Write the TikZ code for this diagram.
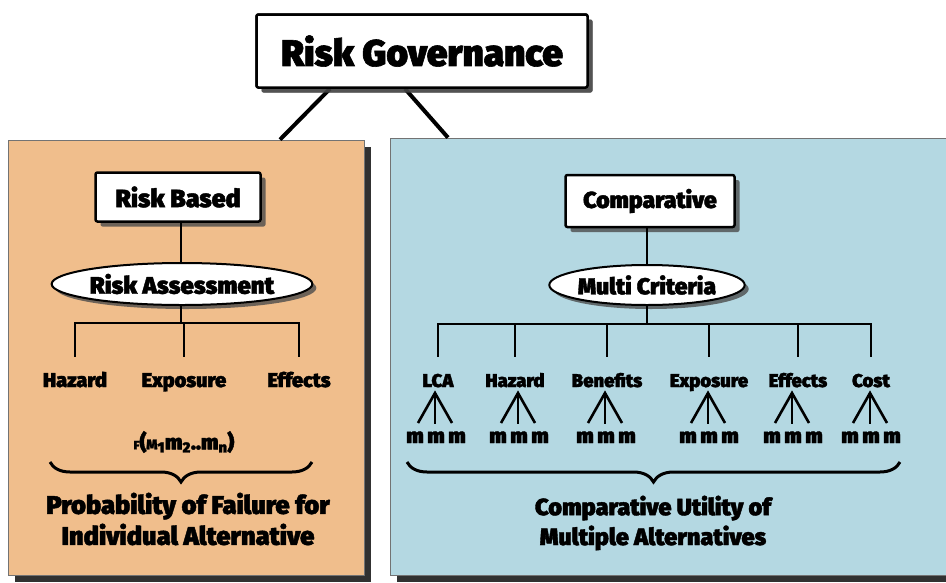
\documentclass[tikz,border=0pt]{standalone}
\usepackage{fontspec}
\setmainfont{Fira Sans}[UprightFont={* Black},BoldFont={* Black},FakeBold=1.6]
\usetikzlibrary{shapes.geometric,shadows,decorations.pathreplacing}
\definecolor{panelTan}{HTML}{F0BE8C}
\definecolor{panelBlue}{HTML}{B4D8E2}
\newcommand\fsz[1]{\fontsize{#1}{#1}\selectfont}
\begin{document}
\begin{tikzpicture}[x=1pt,y=-1pt,
  box/.style={draw,line width=2.5pt,fill=white,rounded corners=2pt,inner sep=0pt,
    drop shadow={shadow xshift=5pt,shadow yshift=-5pt,fill=black!70,opacity=0.8}},
  oval/.style={ellipse,draw,line width=2pt,fill=white,inner sep=0pt,
    drop shadow={shadow xshift=4pt,shadow yshift=-4pt,fill=black!70,opacity=0.8}},
  panel/.style={rectangle,draw=black!55,line width=0.8pt,inner sep=0pt,
    drop shadow={shadow xshift=7pt,shadow yshift=-7pt,fill=black!85,opacity=0.95}},
  lbl/.style={inner xsep=1pt,inner ysep=14pt,text height=16pt,text depth=4pt},
  mm/.style={inner sep=0pt,font=\fsz{21},anchor=base},
  conn/.style={line width=2.6pt},
  thick conn/.style={line width=4pt},
  bracedeco/.style={decorate,decoration={brace,mirror,amplitude=20pt},line width=3pt},
  bottomtxt/.style={align=center,inner sep=0pt}
]
\useasboundingbox (0,0) rectangle (946,582);
\fill[white] (0,0) rectangle (946,582);

% panels
\node[panel,fill=panelTan,minimum width=356pt,minimum height=435pt] (lp) at (186,357.5) {};
\node[panel,fill=panelBlue,minimum width=562pt,minimum height=437pt] (rp) at (671,356.5) {};

% title
\node[box,minimum width=331pt,minimum height=73pt,font=\fsz{37}] (title) at (422,51) {Risk Governance};
\draw[thick conn] ([xshift=-92pt]title.south) -- ([xshift=94pt]lp.north);
\draw[thick conn] ([xshift=-17pt]title.south) -- ([xshift=-223pt]rp.north);
\node[box,minimum width=331pt,minimum height=73pt,font=\fsz{37}] at (422,51) {Risk Governance};

% ---------- left branch
\node[box,minimum width=165pt,minimum height=49pt,font=\fsz{25}] (rb) at (178,197) {Risk Based};
\node[oval,minimum width=235pt,minimum height=42pt,font=\fsz{24}] (ra) at (182,284) {Risk Assessment};
\draw[conn] (rb.south -| 181,0) -- (ra.north -| 181,0);
\coordinate (lbar) at (181,323);
\node[lbl,anchor=base,font=\fsz{20}] (lhaz) at (75,387) {Hazard};
\node[lbl,anchor=base,font=\fsz{20}] (lexp) at (184,387) {Exposure};
\node[lbl,anchor=base,font=\fsz{20}] (leff) at (299,387) {Effects};
\draw[conn] (ra.south -| lbar) -- (lbar);
\draw[conn] (lhaz.north) |- (lbar) -| (leff.north);
\draw[conn] (lexp.north) -- (lexp.north |- lbar);

\node[inner sep=0pt,font=\fsz{21}] (fm) at (184,442)
  {{\fsz{12}F}({\fsz{14}M}\textsubscript{1}m\textsubscript{2}..m\textsubscript{n})};
\coordinate (lb1) at (50,462);
\coordinate (lb2) at (312,462);
\draw[bracedeco] (lb1) -- (lb2);
\node[bottomtxt,font=\fsz{25.5}] (lbt) at (188,519) {Probability of Failure for\\[3pt]Individual Alternative};

% ---------- right branch
\node[box,minimum width=169pt,minimum height=52pt,font=\fsz{23}] (cp) at (650,201) {Comparative};
\node[oval,minimum width=179pt,minimum height=40pt,font=\fsz{23}] (mc) at (647,285) {Multi Criteria};
\draw[conn] (cp.south -| mc) -- (mc.north);
\coordinate (rbar) at (647,324);
\node[lbl,anchor=base,font=\fsz{18.5}] (lca) at (438,387) {LCA};
\node[lbl,anchor=base,font=\fsz{18.5}] (rhaz) at (515,387) {Hazard};
\node[lbl,anchor=base,font=\fsz{18.5}] (rben) at (607,387) {Benefits};
\node[lbl,anchor=base,font=\fsz{18.5}] (rexp) at (709,387) {Exposure};
\node[lbl,anchor=base,font=\fsz{18.5}] (reff) at (798,387) {Effects};
\node[lbl,anchor=base,font=\fsz{18.5}] (rcost) at (871,387) {Cost};
\draw[conn] (mc.south) -- (rbar);
\draw[conn] (lca.north) |- (rbar) -| (rcost.north);
\foreach \n in {rhaz,rben,rexp,reff}
  \draw[conn] (\n.north) -- (\n.north |- rbar);

% tripods and m's
\foreach \cx/\k in {435/a,518/b,605/c,708/d,792/e,870/f}{
  \coordinate (apex\k) at (\cx,393);
  \coordinate (legl\k) at (\cx-17,423);
  \coordinate (legc\k) at (\cx,424);
  \coordinate (legr\k) at (\cx+17,423);
  \draw[conn] (legl\k) -- (apex\k) -- (legr\k);
  \draw[conn] (apex\k) -- (legc\k);
  \node[mm] (ml\k) at (\cx-20,443) {m};
  \node[mm] (mc\k) at (\cx+1,443) {m};
  \node[mm] (mr\k) at (\cx+22,443) {m};
}
\coordinate (rb1) at (407,462);
\coordinate (rb2) at (900,462);
\draw[bracedeco] (rb1) -- (rb2);
\node[bottomtxt,font=\fsz{23.5}] (rbt) at (653,523) {Comparative Utility of\\[4pt]Multiple Alternatives};
\end{tikzpicture}
\end{document}
